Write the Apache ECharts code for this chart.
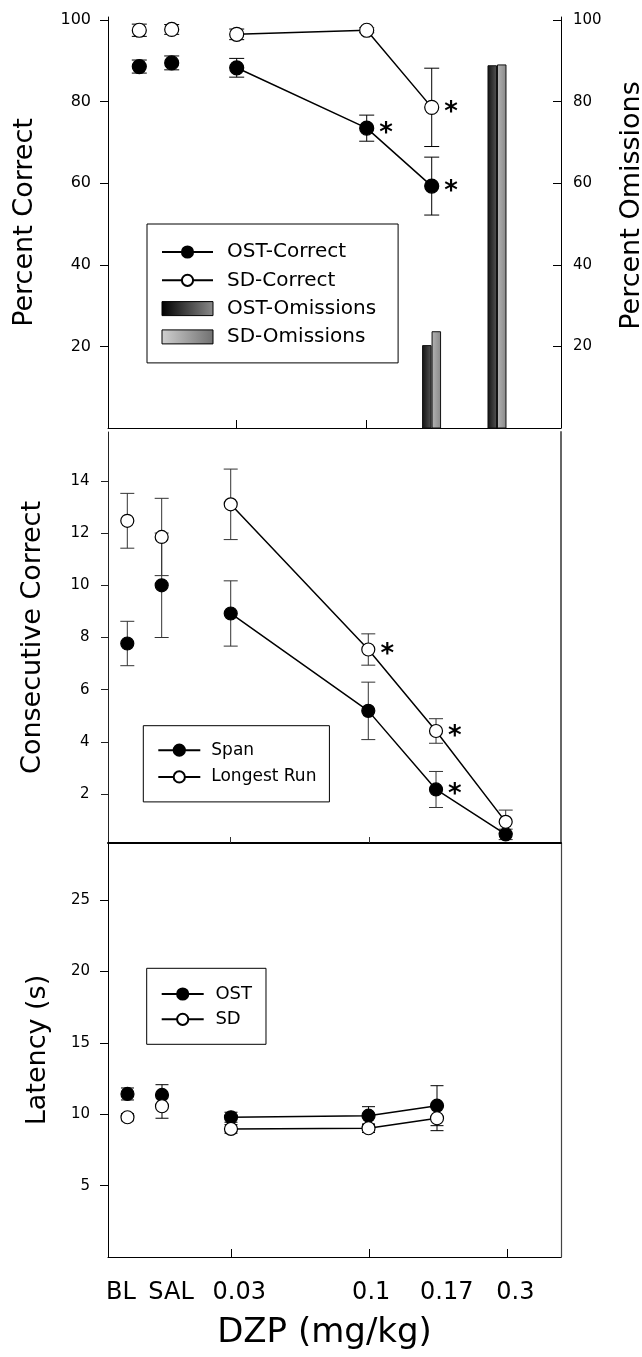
<!DOCTYPE html>
<html><head><meta charset="utf-8">
<script src="https://cdn.jsdelivr.net/npm/echarts@6/dist/echarts.min.js"></script>
<style>html,body{margin:0;padding:0;background:#fff}#c{width:642px;height:1357px}</style>
</head><body><div id="c"></div>
<script>
// ---------- data ----------
const doses = ['BL', 'SAL', '0.03', '0.1', '0.17', '0.3'];
const connected = [false, false, true, true, true, true];
// x position of each dose group on the shared 0-100 plot scale, per panel
const xTop = [6.91, 14.06, 28.41, 57.11, 71.46];
const xTopBars = [71.43, 85.87];
const xMid = [4.26, 11.85, 27.09, 57.46, 72.41, 87.79];
const xBot = [4.30, 11.92, 27.15, 57.51, 72.63];
const xTicksTop = [28.41, 57.11];
const xTicksMid = [27.09, 57.60];
const xTicksBot = [27.28, 57.77, 88.08];
const xLabelPos = [2.87, 13.91, 28.98, 58.10, 74.77, 89.93];

const ostCorrect = [88.6, 89.5, 88.3, 73.5, 59.3];
const ostCorrectErr = [1.6, 1.7, 2.3, 3.2, 7.1];
const sdCorrect = [97.5, 97.7, 96.5, 97.5, 78.6];
const sdCorrectErr = [1.5, 1.2, 1.3, 0.6, 9.6];
const ostCorrectStar = [0, 0, 0, 1, 1];
const sdCorrectStar = [0, 0, 0, 0, 1];
const ostOmissions = [20.2, 88.8];
const sdOmissions = [23.6, 89.0];

const span = [7.77, 10.0, 8.92, 5.19, 2.18, 0.46];
const spanErr = [0.85, 2.0, 1.25, 1.1, 0.69, 0.2];
const longestRun = [12.47, 11.85, 13.1, 7.54, 4.42, 0.94];
const longestRunErr = [1.05, 1.48, 1.35, 0.6, 0.47, 0.45];
const spanStar = [0, 0, 0, 0, 1, 0];
const longestRunStar = [0, 0, 0, 1, 1, 0];

const ostLatency = [11.42, 11.35, 9.79, 9.9, 10.6];
const ostLatencyErr = [0.42, 0.72, 0.35, 0.63, 1.4];
const sdLatency = [9.79, 10.56, 8.97, 9.02, 9.72];
const sdLatencyErr = [0.25, 0.84, 0.3, 0.3, 0.87];

const ticksCorrect = [20, 40, 60, 80, 100];
const ticksConsec = [2, 4, 6, 8, 10, 12, 14];
const ticksLatency = [5, 10, 15, 20, 25];

// ---------- helpers ----------
const FONT = 'DejaVu Sans';
const starLabel = {show: true, formatter: '*', position: 'right', distance: 5, offset: [0, 6],
  fontSize: 26, fontWeight: 'bold', color: '#000', fontFamily: FONT};

function lineData(xs, ys, stars) {
  const out = [];
  for (let i = 0; i < ys.length; i++) {
    const it = {value: [xs[i], ys[i]]};
    if (stars && stars[i]) it.label = starLabel;
    out.push(it);
    if (i < ys.length - 1 && !(connected[i] && connected[i + 1])) out.push({value: [xs[i], '-']});
  }
  return out;
}
function errData(xs, ys, es) { return ys.map((y, i) => [xs[i], y, es[i]]); }
function errRender(color, hw) {
  return function (params, api) {
    const x = api.value(0), y = api.value(1), e = api.value(2);
    const a = api.coord([x, y + e]), b = api.coord([x, y - e]);
    const st = {stroke: color, lineWidth: 1};
    return {type: 'group', children: [
      {type: 'line', shape: {x1: a[0], y1: a[1], x2: b[0], y2: b[1]}, style: st},
      {type: 'line', shape: {x1: a[0] - hw, y1: a[1], x2: a[0] + hw, y2: a[1]}, style: st},
      {type: 'line', shape: {x1: b[0] - hw, y1: b[1], x2: b[0] + hw, y2: b[1]}, style: st}
    ]};
  };
}
function grad(c0, c1) {
  return new echarts.graphic.LinearGradient(0, 0, 1, 0, [{offset: 0, color: c0}, {offset: 1, color: c1}]);
}
function barRender(side, fill) {
  return function (params, api) {
    const x = api.value(0), v = api.value(1);
    const top = api.coord([x, v]), base = api.coord([x, 0]);
    const w = 8.5;
    const x0 = side < 0 ? top[0] - 0.5 - w : top[0] + 0.5;
    return {type: 'rect', shape: {x: x0, y: top[1], width: w, height: base[1] - top[1]},
      style: {fill: fill, stroke: '#111', lineWidth: 1}};
  };
}
function lineSeries(name, xi, yi, data, filled, size) {
  return {type: 'line', name: name, xAxisIndex: xi, yAxisIndex: yi, data: data, z: 3,
    symbol: 'circle', symbolSize: size, showSymbol: true, connectNulls: false,
    itemStyle: {color: filled ? '#000' : '#fff', borderColor: '#000', borderWidth: 1.2},
    lineStyle: {color: '#000', width: 1.5}, emphasis: {disabled: true}, animation: false};
}
function errSeries(name, xi, yi, data, color, hw) {
  return {type: 'custom', name: name, xAxisIndex: xi, yAxisIndex: yi, data: data, z: 2,
    renderItem: errRender(color, hw), encode: {x: 0, y: 1}, animation: false, silent: true};
}
const tickFont = {fontFamily: FONT, color: '#000'};
const nameFont = {fontFamily: FONT, color: '#000', fontSize: 27};
function legendBox(left, top, padding, iw, gap, fs, tp, data) {
  return {orient: 'vertical', left: left, top: top, padding: padding, itemWidth: iw, itemHeight: 14,
    itemGap: gap, borderColor: '#000', borderWidth: 1, backgroundColor: '#fff', selectedMode: false,
    textStyle: {fontSize: fs, fontFamily: FONT, color: '#000', padding: [0, 0, 0, tp]}, data: data};
}

const ostBarFill = grad('#111', '#555');
const sdBarFill = grad('#b4b4b4', '#888');

const option = {
  animation: false,
  backgroundColor: '#fff',
  grid: [
    {left: 108, right: 81, top: 17, height: 411, outerBoundsMode: 'none', containLabel: false},
    {left: 108, right: 81, top: 432, height: 411, outerBoundsMode: 'none', containLabel: false},
    {left: 108, right: 81, top: 843, height: 414, outerBoundsMode: 'none', containLabel: false}
  ],
  xAxis: [
    {type: 'value', gridIndex: 0, min: 0, max: 100, splitLine: {show: false},
      axisLine: {show: true, onZero: false, lineStyle: {color: '#000', width: 1}},
      axisTick: {show: true, inside: true, length: 8, customValues: xTicksTop, lineStyle: {color: '#000'}},
      axisLabel: {show: false}},
    {type: 'value', gridIndex: 1, min: 0, max: 100, splitLine: {show: false},
      axisLine: {show: true, onZero: false, lineStyle: {color: '#000', width: 2}},
      axisTick: {show: true, inside: true, length: 6, customValues: xTicksMid, lineStyle: {color: '#333'}},
      axisLabel: {show: false}},
    {type: 'value', gridIndex: 2, min: 0, max: 100, splitLine: {show: false},
      axisLine: {show: true, onZero: false, lineStyle: {color: '#000', width: 1.2}},
      axisTick: {show: true, inside: true, length: 8, customValues: xTicksBot, lineStyle: {color: '#000'}},
      axisLabel: {show: true, customValues: xLabelPos, margin: 24, fontSize: 24, ...tickFont,
        formatter: function (v) {
          let best = 0;
          xLabelPos.forEach((p, i) => { if (Math.abs(p - v) < Math.abs(xLabelPos[best] - v)) best = i; });
          return doses[best];
        }},
      name: 'DZP (mg/kg)', nameLocation: 'middle', nameGap: 59,
      nameTextStyle: {fontFamily: FONT, color: '#000', fontSize: 34, padding: [0, 20, 0, 0]}}
  ],
  yAxis: [
    {type: 'value', gridIndex: 0, min: 0, max: 100.75, position: 'left', splitLine: {show: false},
      axisLine: {show: true, lineStyle: {color: '#000', width: 1}},
      axisTick: {show: true, inside: false, length: 8, customValues: ticksCorrect, lineStyle: {color: '#000'}},
      axisLabel: {show: true, customValues: ticksCorrect, margin: 17, fontSize: 16, ...tickFont},
      name: 'Percent Correct', nameLocation: 'middle', nameGap: 69.5, nameTextStyle: nameFont},
    {type: 'value', gridIndex: 0, min: 0, max: 100.75, position: 'right', splitLine: {show: false},
      axisLine: {show: true, lineStyle: {color: '#000', width: 1}},
      axisTick: {show: true, inside: true, length: 8, customValues: ticksCorrect, lineStyle: {color: '#000'}},
      axisLabel: {show: true, customValues: ticksCorrect, margin: 12, fontSize: 15, ...tickFont},
      name: 'Percent Omissions', nameLocation: 'middle', nameGap: 57,
      nameTextStyle: {...nameFont, padding: [0, 0, 0, 34]}},
    {type: 'value', gridIndex: 1, min: 0.13, max: 15.87, position: 'left', splitLine: {show: false},
      axisLine: {show: true, lineStyle: {color: '#222', width: 1}},
      axisTick: {show: true, inside: false, length: 7, customValues: ticksConsec, lineStyle: {color: '#222'}},
      axisLabel: {show: true, customValues: ticksConsec, margin: 18.5, fontSize: 15, ...tickFont},
      name: 'Consecutive Correct', nameLocation: 'middle', nameGap: 61.5, nameTextStyle: nameFont},
    {type: 'value', gridIndex: 1, min: 0.13, max: 15.87, position: 'right', splitLine: {show: false},
      axisLine: {show: true, lineStyle: {color: '#666', width: 2}},
      axisTick: {show: false}, axisLabel: {show: false}},
    {type: 'value', gridIndex: 2, min: 0, max: 29, position: 'left', splitLine: {show: false},
      axisLine: {show: true, lineStyle: {color: '#000', width: 1}},
      axisTick: {show: true, inside: false, length: 8, customValues: ticksLatency, lineStyle: {color: '#000'}},
      axisLabel: {show: true, customValues: ticksLatency, margin: 18, fontSize: 15, ...tickFont},
      name: 'Latency (s)', nameLocation: 'middle', nameGap: 57, nameTextStyle: nameFont},
    {type: 'value', gridIndex: 2, min: 0, max: 29, position: 'right', splitLine: {show: false},
      axisLine: {show: true, lineStyle: {color: '#444', width: 1.2}},
      axisTick: {show: false}, axisLabel: {show: false}}
  ],
  legend: [
    legendBox(147, 224, [18, 22, 16, 14], 51, 8.3, 20, 9, [
      {name: 'OST-Correct'}, {name: 'SD-Correct'},
      {name: 'OST-Omissions', icon: 'rect', itemStyle: {color: grad('#000', '#8a8a8a'), borderColor: '#000', borderWidth: 1}},
      {name: 'SD-Omissions', icon: 'rect', itemStyle: {color: grad('#d0d0d0', '#707070'), borderColor: '#000', borderWidth: 1}}
    ]),
    legendBox(143.3, 725.7, [16, 13, 16.5, 14], 42, 9.7, 17, 6, [{name: 'Span'}, {name: 'Longest Run'}]),
    legendBox(146.7, 968.3, [16.7, 14, 16, 14], 42, 7.3, 18, 6.7, [{name: 'OST'}, {name: 'SD'}])
  ],
  series: [
    // panel 1 : omissions bars (right axis)
    {type: 'custom', name: 'OST-Omissions', xAxisIndex: 0, yAxisIndex: 1, z: 1,
      data: xTopBars.map((x, i) => [x, ostOmissions[i]]), encode: {x: 0, y: 1},
      itemStyle: {color: ostBarFill}, renderItem: barRender(-1, ostBarFill)},
    {type: 'custom', name: 'SD-Omissions', xAxisIndex: 0, yAxisIndex: 1, z: 1,
      data: xTopBars.map((x, i) => [x, sdOmissions[i]]), encode: {x: 0, y: 1},
      itemStyle: {color: sdBarFill}, renderItem: barRender(1, sdBarFill)},
    errSeries('OST-Correct err', 0, 0, errData(xTop, ostCorrect, ostCorrectErr), '#000', 7.5),
    errSeries('SD-Correct err', 0, 0, errData(xTop, sdCorrect, sdCorrectErr), '#000', 7.5),
    lineSeries('OST-Correct', 0, 0, lineData(xTop, ostCorrect, ostCorrectStar), true, 14),
    lineSeries('SD-Correct', 0, 0, lineData(xTop, sdCorrect, sdCorrectStar), false, 14),
    // panel 2
    errSeries('Span err', 1, 2, errData(xMid, span, spanErr), '#333', 7),
    errSeries('Longest Run err', 1, 2, errData(xMid, longestRun, longestRunErr), '#333', 7),
    lineSeries('Span', 1, 2, lineData(xMid, span, spanStar), true, 13),
    lineSeries('Longest Run', 1, 2, lineData(xMid, longestRun, longestRunStar), false, 13),
    // panel 3
    errSeries('OST err', 2, 4, errData(xBot, ostLatency, ostLatencyErr), '#000', 6.5),
    errSeries('SD err', 2, 4, errData(xBot, sdLatency, sdLatencyErr), '#000', 6.5),
    lineSeries('OST', 2, 4, lineData(xBot, ostLatency, null), true, 13),
    lineSeries('SD', 2, 4, lineData(xBot, sdLatency, null), false, 13)
  ]
};
const chart = echarts.init(document.getElementById('c'), null, {renderer: 'canvas'});
chart.setOption(option);
</script>
</body></html>
